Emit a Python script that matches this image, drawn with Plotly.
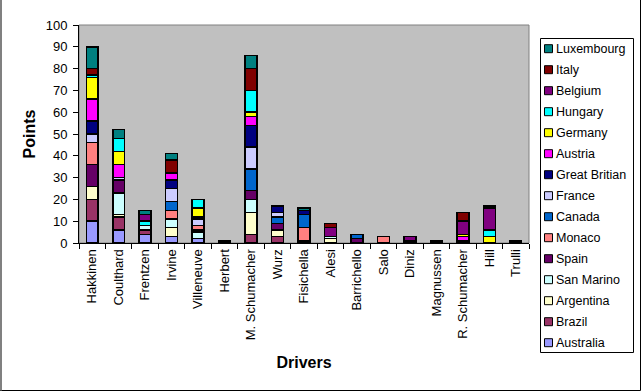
import plotly.graph_objects as go

drivers = ["Hakkinen", "Coulthard", "Frentzen", "Irvine", "Villeneuve", "Herbert",
           "M. Schumacher", "Wurz", "Fisichella", "Alesi", "Barrichello", "Salo",
           "Diniz", "Magnussen", "R. Schumacher", "Hill", "Trulli"]

races = ["Australia", "Brazil", "Argentina", "San Marino", "Spain", "Monaco", "Canada",
         "France", "Great Britian", "Austria", "Germany", "Hungary", "Belgium", "Italy",
         "Luxembourg"]

# points per race, in driver order
australia   = [10, 6, 4, 3, 2, 1, 0, 0, 0, 0, 0, 0, 0, 0, 0, 0, 0]
brazil      = [10, 6, 2, 0, 0, 0, 4, 3, 1, 0, 0, 0, 0, 0, 0, 0, 0]
argentina   = [6, 1, 0, 4, 0, 0, 10, 3, 0, 2, 0, 0, 0, 0, 0, 0, 0]
san_marino  = [0, 10, 2, 4, 3, 0, 6, 0, 0, 1, 0, 0, 0, 0, 0, 0, 0]
spain       = [10, 6, 0, 0, 1, 0, 4, 3, 0, 0, 2, 0, 0, 0, 0, 0, 0]
monaco      = [10, 0, 0, 4, 2, 0, 0, 0, 6, 0, 0, 3, 1, 0, 0, 0, 0]
canada      = [0, 0, 0, 4, 0, 0, 10, 3, 6, 0, 2, 0, 0, 1, 0, 0, 0]
france      = [4, 1, 0, 6, 3, 0, 10, 2, 0, 0, 0, 0, 0, 0, 0, 0, 0]
great_brit  = [6, 0, 0, 4, 0, 0, 10, 3, 2, 0, 0, 0, 0, 0, 1, 0, 0]
austria     = [10, 6, 0, 3, 1, 0, 4, 0, 0, 0, 0, 0, 0, 0, 2, 0, 0]
germany     = [10, 6, 0, 0, 4, 0, 2, 0, 0, 0, 0, 0, 0, 0, 1, 3, 0]
hungary     = [1, 6, 2, 0, 4, 0, 10, 0, 0, 0, 0, 0, 0, 0, 0, 3, 0]
belgium     = [0, 0, 3, 0, 0, 0, 0, 0, 0, 4, 0, 0, 2, 0, 6, 10, 1]
italy       = [3, 0, 0, 6, 0, 0, 10, 0, 0, 2, 0, 0, 0, 0, 4, 1, 0]
luxembourg  = [10, 4, 2, 3, 0, 0, 6, 0, 1, 0, 0, 0, 0, 0, 0, 0, 0]

series = [australia, brazil, argentina, san_marino, spain, monaco, canada, france,
          great_brit, austria, germany, hungary, belgium, italy, luxembourg]

colors = ["#9999FF", "#993366", "#FFFFCC", "#CCFFFF", "#660066", "#FF8080", "#0066CC",
          "#CCCCFF", "#000080", "#FF00FF", "#FFFF00", "#00FFFF", "#800080", "#800000",
          "#008080"]

y_ticks = list(range(0, 101, 10))

FONT = "Liberation Sans, Arial, sans-serif"
W, H = 642, 392
L, R, T, B = 79, 113, 25, 149
PW, PH = W - L - R, H - T - B


def px(x):
    return (x - L) / PW


def py(y):
    return (H - B - y) / PH


fig = go.Figure()
for name, vals, col in zip(races, series, colors):
    fig.add_trace(go.Bar(
        x=drivers, y=vals, name=name,
        marker=dict(color=col, line=dict(color="black", width=1.5)),
        showlegend=False,
    ))

shapes = [
    # plot area frame
    dict(type="rect", xref="paper", yref="paper", x0=0, x1=1, y0=0, y1=1,
         line=dict(color="#808080", width=1), layer="below", fillcolor="#C0C0C0"),
    # outer chart border (right / bottom black, left grey)
    dict(type="line", xref="paper", yref="paper", x0=px(640.5), x1=px(640.5),
         y0=py(0), y1=py(390.5), line=dict(color="black", width=1)),
    dict(type="line", xref="paper", yref="paper", x0=px(0), x1=px(640.5),
         y0=py(390.5), y1=py(390.5), line=dict(color="black", width=1)),
    dict(type="line", xref="paper", yref="paper", x0=px(1), x1=px(1),
         y0=py(0), y1=py(390.5), line=dict(color="#808080", width=2)),
    # legend box
    dict(type="rect", xref="paper", yref="paper", x0=px(540.5), x1=px(633.5),
         y0=py(38.5), y1=py(352.5), line=dict(color="black", width=1),
         fillcolor="white"),
]
annotations = []
leg_top, leg_step = 48.7, 21.0
for i, (name, col) in enumerate(zip(races[::-1], colors[::-1])):
    cy = leg_top + i * leg_step
    shapes.append(dict(type="rect", xref="paper", yref="paper",
                       x0=px(544.5), x1=px(552.5), y0=py(cy - 4), y1=py(cy + 4),
                       line=dict(color="black", width=1), fillcolor=col))
    annotations.append(dict(xref="paper", yref="paper", x=px(554), y=py(cy),
                            xanchor="left", yanchor="middle", text=name,
                            showarrow=False,
                            font=dict(family=FONT, size=12.5, color="black")))

fig.update_layout(
    width=W, height=H,
    margin=dict(l=L, r=R, t=T, b=B, autoexpand=False),
    paper_bgcolor="white", plot_bgcolor="#C0C0C0",
    barmode="stack", bargap=0.55,
    font=dict(family=FONT, size=13, color="black"),
    shapes=shapes, annotations=annotations,
    showlegend=False,
    xaxis=dict(
        type="category", showgrid=False, zeroline=False,
        showline=True, linecolor="black", linewidth=1,
        ticks="outside", ticklen=5, tickcolor="black", tickson="boundaries",
        tickangle=-90, tickfont=dict(size=13),
        title=dict(text="<b>Drivers</b>", font=dict(size=16), standoff=17),
        automargin=False,
    ),
    yaxis=dict(
        range=[0, 100], tickvals=y_ticks, showgrid=False, zeroline=False,
        showline=True, linecolor="black", linewidth=1,
        ticks="outside", ticklen=5, tickcolor="black",
        tickfont=dict(size=13), ticklabelstandoff=3,
        title=dict(text="<b>Points</b>", font=dict(size=16), standoff=6),
        automargin=False,
    ),
)

fig.write_html("out.html", config={"displayModeBar": False},
               post_script="document.body.style.margin='0';document.body.style.padding='0';")
